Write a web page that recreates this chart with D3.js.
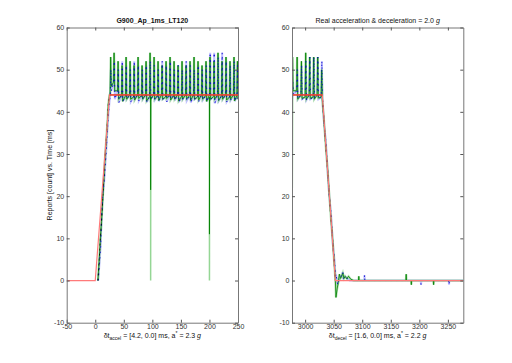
<!DOCTYPE html>
<html>
<head>
<meta charset="utf-8">
<script src="https://cdn.jsdelivr.net/npm/d3@7"></script>
<style>
  body { margin: 0; background: #fff; }
  svg { display: block; font-family: "Liberation Sans", Arial, sans-serif; }
</style>
</head>
<body>
<div id="chart"></div>
<script>
// ---- data ----
const yTicks = [-10, 0, 10, 20, 30, 40, 50, 60];
const accelTicks = [-50, 0, 50, 100, 150, 200, 250];
const decelTicks = [3000, 3050, 3100, 3150, 3200, 3250];

// acceleration panel: ramp, then periodic report spikes
const accelRampT = [4.7, 7, 9, 11, 13, 15, 17, 19, 21, 23, 25];
const accelRampG = [0, 5, 10, 14, 19, 24, 29, 33, 37, 42, 44];
const accelRampB = [0, 4, 8, 16, 21, 23, 27, 31, 36, 40, 43];
const accelSpikeT = [27, 33, 40, 47, 54, 61, 68, 75, 82, 89, 96, 103, 110, 117, 124, 131, 138,
  145, 152, 159, 166, 173, 180, 187, 194, 201, 208, 215, 222, 229, 236, 243, 249];
const accelLevelG = [44, 47, 45, 44, 43.8, 44, 43.5, 44, 43.8, 44, 43.6, 44, 43.8, 44, 43.5, 44, 43.8,
  44, 43.6, 44, 43.8, 44, 43.5, 44, 43.8, 44, 43.6, 44, 43.8, 44, 43.5, 44, 43.8];
const accelPeakG = [53, 54, 52, 51, 53, 52, 51, 53, 51, 52, 54, 53, 52, 51, 52, 53, 52,
  51, 52, 51, 52, 53, 52, 51, 52, 53, 52, 54, 52, 53, 52, 53, 52];
const accelDipG = [46, 45, 43, 42.5, 43, 43, 42.8, 43.2, 43, 42.6, 43, 43, 42.7, 43, 43.2, 42.8, 43,
  42.6, 43, 43.1, 42.7, 43, 42.8, 43, 42.5, 43, 43, 42.7, 43, 42.8, 43, 42.6, 43];
const accelPeakB = [50, 52, 50, 52, 51, 50, 52, 51, 50, 51, 52, 51, 50, 52, 51, 52, 50,
  51, 50, 52, 51, 50, 51, 50, 51, 54, 54, 53, 54, 52, 51, 52, 51];
const accelDipB = [45, 43, 42.2, 42.5, 43, 42.4, 43, 42.6, 43, 42.3, 43, 42.8, 42.5, 43, 42.4, 43, 42.7,
  42.3, 43, 42.6, 42.2, 43, 42.5, 42.8, 42.4, 43, 42, 42.6, 43, 42.4, 42.8, 42.5, 43];
const accelDropT = [97, 200];
const accelDropLight = [0, 0];
const accelDropDark = [21.5, 11];
const accelModelT = [-50, 0, 25, 250];
const accelModelV = [0, 0, 44, 44];

// deceleration panel
const decelSpikeT = [2978, 2986, 2993.5, 3001, 3008, 3015, 3022, 3029];
const decelLevelG = [22, 45, 44, 43.5, 44, 43.5, 44, 43.5];
const decelPeakG = [53, 53, 52, 54, 53, 53, 53, 50];
const decelDipG = [45, 43, 43.2, 43, 43.2, 43, 43.3, 43];
const decelPeakB = [47, 50, 51, 52, 53, 53, 53, 52];
const decelDipB = [44, 43, 43, 42.8, 43, 43.2, 43, 43];
const decelRampT = [3030, 3033, 3036, 3039, 3042, 3045, 3048, 3051, 3053];
const decelRampG = [44, 38, 32, 27, 21, 15, 10, 4, 0];
const decelRampB = [43, 37, 33, 26, 20, 16, 9, 5, 1];
// settling just after the stop
const decelTailT = [3054, 3056, 3058, 3060, 3062, 3064, 3066, 3068, 3070, 3073, 3076, 3080, 3085];
const decelTailG = [-4, -2, -0.5, 1.5, 0.5, 1, 1.8, 0.5, 1, 0.4, 1, 0.3, 0];
const decelTailBT = [3054, 3057, 3060, 3063, 3066, 3067, 3070, 3074, 3078];
const decelTailB = [1.5, -1, 0.5, 1, 2, 0.5, 1, 0.5, 0];
// isolated single-report blips on the zero line
const decelBlipGT = [3094, 3177, 3186, 3225];
const decelBlipG = [1, 1.5, -1, -1];
const decelBlipBT = [3104, 3203, 3252];
const decelBlipB = [1.3, -1, -1];
const decelModelT = [2977, 3030, 3053, 3277];
const decelModelV = [44, 44, 0, 0];

// ---- layout ----
const W = 512, H = 363;
const plotTop = 27.5, plotBottom = 322.7;

const svg = d3.select("#chart").append("svg").attr("width", W).attr("height", H);

const y = d3.scaleLinear().domain([-10, 60]).range([plotBottom, plotTop]);

function spikeSeries(rampT, rampV, spikeT, level, peak, dip) {
  const pts = rampT.map((t, i) => [t, rampV[i]]);
  spikeT.forEach((t, i) => {
    pts.push([t - 1, level[i]], [t, peak[i]], [t + 1, dip[i]]);
  });
  return pts.sort((a, b) => a[0] - b[0]);
}

function tailSeries(tailT, tailV, blipT, blipV, end) {
  const pts = tailT.map((t, i) => [t, tailV[i]]);
  blipT.forEach((t, i) => pts.push([t - 0.6, 0], [t, blipV[i]], [t + 0.6, 0]));
  pts.push([end, 0]);
  return pts.sort((a, b) => a[0] - b[0]);
}

function panel(opts) {
  const x = d3.scaleLinear().domain(opts.domain).range([opts.x0, opts.x1]);
  const g = svg.append("g");
  const id = "clip" + opts.name;
  svg.append("clipPath").attr("id", id).append("rect")
    .attr("x", opts.x0).attr("y", plotTop).attr("width", opts.x1 - opts.x0).attr("height", plotBottom - plotTop);

  const line = d3.line().x(d => x(d[0])).y(d => y(d[1]));
  const data = g.append("g").attr("clip-path", `url(#${id})`);

  // light raw traces
  data.append("path").datum(opts.blue).attr("d", line)
    .attr("fill", "none").attr("stroke", "#8c8cff").attr("stroke-opacity", 0.55).attr("stroke-width", 2);
  data.append("path").datum(opts.green).attr("d", line)
    .attr("fill", "none").attr("stroke", "#7acc7a").attr("stroke-opacity", 0.6).attr("stroke-width", 2.2);
  (opts.drops || []).forEach(dr => {
    data.append("path").datum([[dr.t, 43.5], [dr.t, dr.light], [dr.t + 0.3, 43.5]]).attr("d", line)
      .attr("fill", "none").attr("stroke", "#7acc7a").attr("stroke-opacity", 0.8).attr("stroke-width", 1.5);
  });
  // dark traces
  data.append("path").datum(opts.green).attr("d", line)
    .attr("fill", "none").attr("stroke", "#008000").attr("stroke-width", 0.8);
  (opts.drops || []).forEach(dr => {
    data.append("path").datum([[dr.t, 43.5], [dr.t, dr.dark], [dr.t + 0.3, 43.5]]).attr("d", line)
      .attr("fill", "none").attr("stroke", "#008000").attr("stroke-width", 0.8);
  });
  data.append("path").datum(opts.blue).attr("d", line)
    .attr("fill", "none").attr("stroke", "#0000c8").attr("stroke-width", 0.9).attr("stroke-dasharray", "1.5,4");
  data.append("path").datum(opts.fit).attr("d", line)
    .attr("fill", "none").attr("stroke", "#000").attr("stroke-width", 0.8).attr("stroke-dasharray", "2,3");
  // model
  data.append("path").datum(opts.model).attr("d", line)
    .attr("fill", "none").attr("stroke", "#ff7a7a").attr("stroke-width", 1.2);
  data.append("path").datum(opts.plateau).attr("d", line)
    .attr("fill", "none").attr("stroke", "#e01a00").attr("stroke-width", 1.1);

  // axes, matlab style: ticks inside, box all round
  const fmt = d => String(d);
  const ax = g.append("g");
  ax.append("g").attr("transform", `translate(0,${plotBottom})`)
    .call(d3.axisBottom(x).tickValues(opts.ticks).tickSizeInner(-3).tickSizeOuter(0).tickPadding(1).tickFormat(fmt));
  ax.append("g").attr("transform", `translate(0,${plotTop})`)
    .call(d3.axisTop(x).tickValues(opts.ticks).tickSizeInner(-3).tickSizeOuter(0).tickFormat(""));
  ax.append("g").attr("transform", `translate(${opts.x0},0)`)
    .call(d3.axisLeft(y).tickValues(yTicks).tickSizeInner(-3).tickSizeOuter(0).tickPadding(2.5).tickFormat(fmt));
  ax.append("g").attr("transform", `translate(${opts.x1},0)`)
    .call(d3.axisRight(y).tickValues(yTicks).tickSizeInner(-3).tickSizeOuter(0).tickFormat(""));
  ax.selectAll("g").attr("font-size", 7).attr("font-family", null);
  ax.selectAll(".domain").attr("stroke", "#777");
  ax.selectAll(".tick line").attr("stroke", "#555");
  ax.selectAll("text").attr("fill", "#333");

  // title
  const cx = (opts.x0 + opts.x1) / 2;
  const title = svg.append("text").attr("x", cx).attr("y", 23).attr("text-anchor", "middle")
    .style("font-size", "7px").attr("fill", "#111")
    .style("font-weight", opts.bold ? "bold" : "normal");
  title.append("tspan").text(opts.title);
  if (opts.titleG) title.append("tspan").style("font-style", "italic").text("g");

  // x label
  const xl = svg.append("text").attr("x", cx).attr("y", 337.5).attr("text-anchor", "middle")
    .style("font-size", "7px").attr("fill", "#111");
  xl.append("tspan").text("δt");
  xl.append("tspan").attr("dy", 2).style("font-size", "5px").text(opts.sub);
  xl.append("tspan").attr("dy", -2).text(` = ${opts.range} ms,  a`);
  xl.append("tspan").attr("dy", -3).style("font-size", "5px").text("*");
  xl.append("tspan").attr("dy", 3).text(` = ${opts.astar} `);
  xl.append("tspan").style("font-style", "italic").text("g");
}

panel({
  name: "accel",
  domain: [-50, 250], x0: 66.7, x1: 238, ticks: accelTicks,
  green: spikeSeries(accelRampT, accelRampG, accelSpikeT, accelLevelG, accelPeakG, accelDipG),
  blue: spikeSeries(accelRampT.map(t => t + 0.4), accelRampB, accelSpikeT.map(t => t + 0.3), accelLevelG, accelPeakB, accelDipB),
  drops: accelDropT.map((t, i) => ({ t: t, light: accelDropLight[i], dark: accelDropDark[i] })),
  fit: accelRampT.map((t, i) => [t, accelRampG[i]]),
  model: accelModelT.map((t, i) => [t, accelModelV[i]]),
  plateau: accelModelT.slice(2).map((t, i) => [t, accelModelV[i + 2]]),
  title: "G900_Ap_1ms_LT120", bold: true,
  sub: "accel", range: "[4.2, 0.0]", astar: "2.3"
});

panel({
  name: "decel",
  domain: [2977, 3277], x0: 292, x1: 463.3, ticks: decelTicks,
  green: spikeSeries(decelRampT, decelRampG, decelSpikeT, decelLevelG, decelPeakG, decelDipG)
    .concat(tailSeries(decelTailT, decelTailG, decelBlipGT, decelBlipG, 3277)),
  blue: spikeSeries(decelRampT.map(t => t + 0.3), decelRampB, decelSpikeT.map(t => t + 0.3), decelLevelG.map(v => Math.max(v, 43)), decelPeakB, decelDipB)
    .concat(tailSeries(decelTailBT, decelTailB, decelBlipBT, decelBlipB, 3277)),
  fit: decelRampT.map((t, i) => [t, decelRampG[i]]),
  model: decelModelT.map((t, i) => [t, decelModelV[i]]),
  plateau: decelModelT.slice(0, 2).map((t, i) => [t, decelModelV[i]]),
  title: "Real acceleration & deceleration = 2.0 ", titleG: true, bold: false,
  sub: "decel", range: "[1.6, 0.0]", astar: "2.2"
});

// y label on the left panel
svg.append("text")
  .attr("transform", `translate(52,${(plotTop + plotBottom) / 2}) rotate(-90)`)
  .attr("text-anchor", "middle").style("font-size", "7px").attr("fill", "#111")
  .text("Reports [count] vs. Time [ms]");
</script>
</body>
</html>
